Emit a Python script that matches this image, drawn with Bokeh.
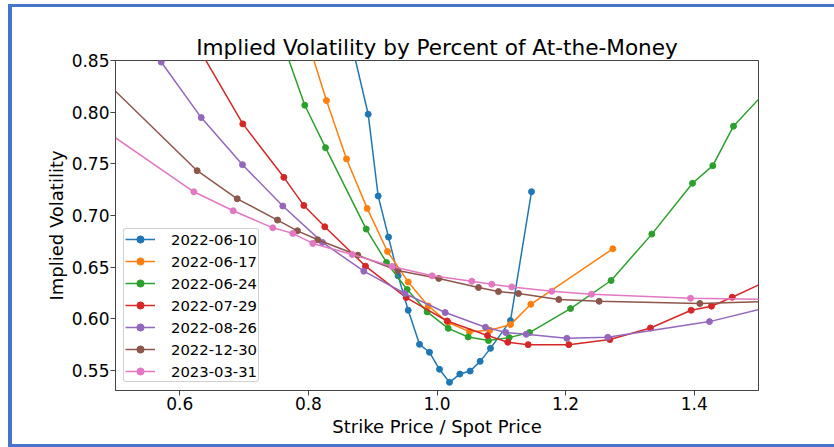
from bokeh.plotting import figure
from bokeh.models import Range1d, FixedTicker, NumeralTickFormatter
from bokeh.embed import file_html
from bokeh.resources import INLINE

dates = ["2022-06-10", "2022-06-17", "2022-06-24", "2022-07-29",
         "2022-08-26", "2022-12-30", "2023-03-31"]
colors = ["#1f77b4", "#ff7f0e", "#2ca02c", "#d62728", "#9467bd", "#8c564b", "#e377c2"]

x_0610 = [0.862, 0.893, 0.9085, 0.9246, 0.9396, 0.9552, 0.9728, 0.9883, 1.0039,
          1.0194, 1.0355, 1.0516, 1.0671, 1.0832, 1.1143, 1.147]
iv_0610 = [0.880, 0.798, 0.7188, 0.679, 0.6415, 0.6082, 0.5752, 0.5675, 0.551,
           0.5384, 0.5464, 0.5493, 0.5587, 0.5713, 0.5982, 0.723]

x_0617 = [0.797, 0.8281, 0.8593, 0.8914, 0.923, 0.9552, 0.9863, 1.0174, 1.0505,
          1.0821, 1.1143, 1.1459, 1.2734]
iv_0617 = [0.873, 0.8112, 0.7547, 0.7068, 0.6651, 0.6356, 0.6124, 0.5963, 0.5875,
           0.5888, 0.5943, 0.614, 0.6677]

x_0624 = [0.763, 0.7944, 0.8266, 0.8899, 0.9215, 0.9536, 0.9847, 1.0174, 1.0485,
          1.0801, 1.1123, 1.1439, 1.2076, 1.2708, 1.3341, 1.3974, 1.4289, 1.4611, 1.524]
iv_0624 = [0.862, 0.8067, 0.7656, 0.6868, 0.6545, 0.6283, 0.6066, 0.5907, 0.5823,
           0.5788, 0.5817, 0.5866, 0.6098, 0.637, 0.6819, 0.7311, 0.7482, 0.7864, 0.8285]

x_0729 = [0.634, 0.698, 0.7618, 0.7929, 0.8255, 0.8888, 0.9521, 1.0158, 1.0785,
          1.1101, 1.1418, 1.205, 1.2688, 1.332, 1.3953, 1.4269, 1.4591, 1.522]
iv_0729 = [0.857, 0.7886, 0.7369, 0.7097, 0.689, 0.6509, 0.6205, 0.5978, 0.5837,
           0.5772, 0.5749, 0.5749, 0.5798, 0.591, 0.6082, 0.6121, 0.6208, 0.639]

x_0826 = [0.5711, 0.6333, 0.6975, 0.7602, 0.8219, 0.8862, 0.9499, 1.0127, 1.0754,
          1.107, 1.1387, 1.2019, 1.2656, 1.4238, 1.55]
iv_0826 = [0.8485, 0.7947, 0.7491, 0.7091, 0.6739, 0.646, 0.6244, 0.606, 0.5917,
           0.5866, 0.5849, 0.581, 0.582, 0.5972, 0.6163]

x_1230 = [0.47, 0.627, 0.6893, 0.752, 0.783, 0.8146, 0.8768, 0.939, 1.0028,
          1.0645, 1.0956, 1.1267, 1.1894, 1.2522, 1.4087, 1.53]
iv_1230 = [0.8385, 0.7433, 0.7161, 0.6955, 0.6851, 0.6764, 0.6615, 0.6467, 0.639,
           0.6302, 0.6263, 0.6244, 0.6186, 0.6169, 0.6147, 0.617]

x_0331 = [0.47, 0.6218, 0.683, 0.7446, 0.7757, 0.8068, 0.8681, 0.9303, 0.9925,
          1.0542, 1.0852, 1.1163, 1.1785, 1.2403, 1.3943, 1.53]
iv_0331 = [0.788, 0.7229, 0.7045, 0.688, 0.6826, 0.6729, 0.6622, 0.6506, 0.6415,
           0.6363, 0.6334, 0.6308, 0.6266, 0.6237, 0.6198, 0.6186]

x_ticks = [0.6, 0.8, 1.0, 1.2, 1.4]
y_ticks = [0.55, 0.60, 0.65, 0.70, 0.75, 0.80, 0.85]

series_x = [x_0610, x_0617, x_0624, x_0729, x_0826, x_1230, x_0331]
series_y = [iv_0610, iv_0617, iv_0624, iv_0729, iv_0826, iv_1230, iv_0331]

FONT = "DejaVu Sans"
BLUE = "#4674C8"

p = figure(width=834, height=447, output_backend="svg", toolbar_location=None,
           x_range=Range1d(0.5, 1.5), y_range=Range1d(0.5305, 0.85),
           min_border_left=115, min_border_right=76, min_border_top=60,
           min_border_bottom=57,
           title="Implied Volatility by Percent of At-the-Money")
p.border_fill_color = None
p.background_fill_color = "white"
grad = f"linear-gradient({BLUE}, {BLUE})"
p.styles = {
    "background-color": "white",
    "background-image": f"{grad}, {grad}, {grad}",
    "background-size": "4px 443px, 826px 3px, 826px 3px",
    "background-position": "8px 4px, 8px 4px, 8px 444px",
    "background-repeat": "no-repeat",
}

p.title.text_font = FONT
p.title.text_font_size = "21.6px"
p.title.text_font_style = "normal"
p.title.text_color = "black"
p.title.align = "center"
p.title.standoff = 2

p.xgrid.visible = False
p.ygrid.visible = False
p.outline_line_color = "#444444"
p.outline_line_alpha = 1.0
p.outline_line_width = 1

for ax in (p.xaxis, p.yaxis):
    ax.axis_line_color = "#444444"
    ax.major_tick_line_color = "#444444"
    ax.major_tick_out = 5
    ax.major_tick_in = 0
    ax.minor_tick_line_color = None
    ax.major_label_text_font = FONT
    ax.major_label_text_font_size = "17px"
    ax.major_label_text_color = "black"
    ax.axis_label_text_font = FONT
    ax.axis_label_text_font_size = "18px"
    ax.axis_label_text_font_style = "normal"
    ax.axis_label_text_color = "black"

p.xaxis.ticker = FixedTicker(ticks=x_ticks)
p.yaxis.ticker = FixedTicker(ticks=y_ticks)
p.xaxis.formatter = NumeralTickFormatter(format="0.0")
p.yaxis.formatter = NumeralTickFormatter(format="0.00")
p.xaxis.axis_label = "Strike Price / Spot Price"
p.yaxis.axis_label = "Implied Volatility"
p.xaxis.major_label_standoff = 1
p.yaxis.major_label_standoff = 1
p.xaxis.axis_label_standoff = 3
p.yaxis.axis_label_standoff = 2

for xs, ys, c, d in zip(series_x, series_y, colors, dates):
    p.line(xs, ys, line_color=c, line_width=1.5, legend_label=d)
    p.scatter(xs, ys, marker="circle", size=6, fill_color=c, line_color=c, legend_label=d)

lg = p.legend[0]
lg.location = "bottom_left"
lg.margin = 8
lg.padding = 1
lg.spacing = 4
lg.glyph_width = 30
lg.glyph_height = 18
lg.label_height = 18
lg.label_standoff = 16
lg.label_text_font = FONT
lg.label_text_font_size = "14.8px"
lg.label_text_color = "black"
lg.border_line_color = "#cccccc"
lg.border_line_alpha = 0.9
lg.background_fill_alpha = 0.8
try:
    lg.border_radius = 3
except Exception:
    pass

open("out.html", "w").write(file_html(p, INLINE))
